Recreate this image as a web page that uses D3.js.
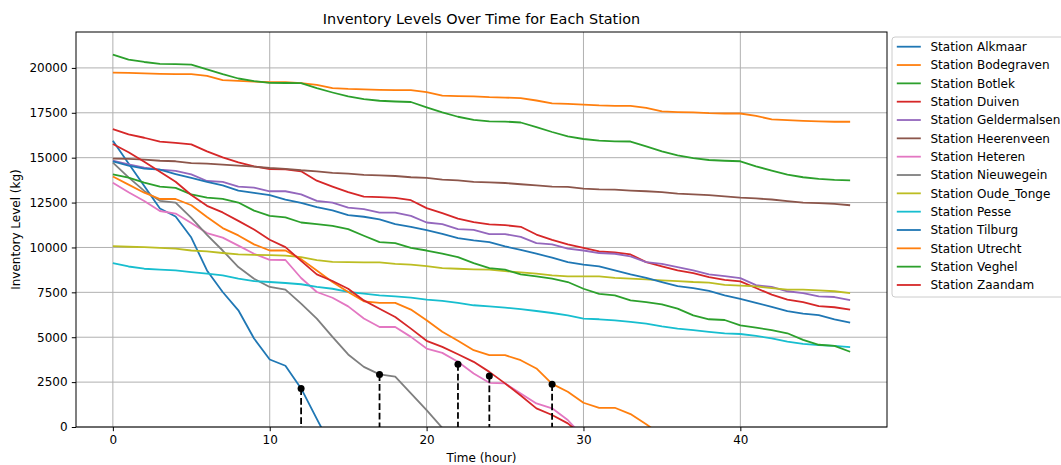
<!DOCTYPE html>
<html>
<head>
<meta charset="utf-8">
<script src="https://cdn.jsdelivr.net/npm/d3@7"></script>
<style>
  html, body { margin: 0; padding: 0; background: #fff; }
  svg { display: block; font-family: "DejaVu Sans", sans-serif; }
</style>
</head>
<body>
<svg id="chart" width="1061" height="465"></svg>
<script>
// ---------------- DATA ----------------
const stationNames = [
  "Station Alkmaar", "Station Bodegraven", "Station Botlek", "Station Duiven",
  "Station Geldermalsen", "Station Heerenveen", "Station Heteren", "Station Nieuwegein",
  "Station Oude_Tonge", "Station Pesse", "Station Tilburg", "Station Utrecht",
  "Station Veghel", "Station Zaandam"
];

const alkmaar = [15940, 14680, 13420, 12170, 11720, 10550, 8720, 7520, 6500, 4930, 3760, 3410, 2150, 450, -1200];
const bodegraven = [19740, 19720, 19700, 19670, 19650, 19650, 19560, 19320, 19280, 19240, 19200, 19200, 19150, 19060, 18870, 18830, 18810, 18780, 18760, 18760, 18650, 18460, 18430, 18410, 18370, 18350, 18315, 18185, 18020, 18000, 17960, 17910, 17890, 17890, 17780, 17575, 17540, 17520, 17480, 17460, 17460, 17330, 17130, 17090, 17050, 17020, 17000, 17000];
const botlek = [20740, 20460, 20330, 20220, 20210, 20180, 19920, 19650, 19410, 19260, 19170, 19160, 19150, 18870, 18630, 18410, 18260, 18170, 18130, 18100, 17800, 17520, 17280, 17110, 17020, 17010, 16960, 16700, 16430, 16185, 16040, 15945, 15910, 15900, 15630, 15350, 15130, 14980, 14870, 14830, 14800, 14520, 14280, 14060, 13910, 13820, 13760, 13740];
const duiven = [16590, 16300, 16110, 15890, 15830, 15740, 15350, 15020, 14740, 14520, 14370, 14350, 14240, 13720, 13390, 13080, 12830, 12800, 12760, 12630, 12190, 11910, 11610, 11410, 11280, 11240, 11150, 10720, 10425, 10170, 9980, 9780, 9720, 9610, 9185, 8945, 8720, 8570, 8350, 8200, 8110, 7740, 7370, 7100, 6950, 6730, 6670, 6540];
const geldermalsen = [14830, 14630, 14440, 14330, 14260, 14070, 13700, 13650, 13390, 13330, 13130, 13130, 12960, 12590, 12500, 12220, 12130, 11940, 11940, 11760, 11390, 11300, 11020, 10980, 10740, 10740, 10590, 10240, 10170, 9930, 9830, 9690, 9650, 9500, 9185, 9090, 8910, 8720, 8500, 8400, 8290, 7900, 7800, 7560, 7460, 7280, 7240, 7060];
const heerenveen = [14945, 14930, 14890, 14830, 14800, 14700, 14670, 14610, 14555, 14500, 14425, 14380, 14300, 14240, 14150, 14110, 14040, 14020, 13980, 13910, 13870, 13780, 13740, 13650, 13630, 13590, 13520, 13460, 13390, 13370, 13280, 13240, 13220, 13170, 13130, 13080, 13000, 12960, 12910, 12840, 12770, 12730, 12670, 12580, 12500, 12470, 12430, 12350];
const heteren = [13600, 13070, 12590, 12030, 11890, 11360, 10800, 10550, 10100, 9650, 9310, 9300, 8300, 7520, 7200, 6720, 6040, 5570, 5570, 5020, 4370, 4130, 3630, 2980, 2460, 2430, 1870, 1310, 1040, 390, -550];
const nieuwegein = [14720, 13900, 13150, 12600, 12500, 11650, 10700, 9830, 8910, 8260, 7800, 7650, 6870, 6040, 5020, 4040, 3350, 2930, 2800, 1870, 940, -50, -1000];
const oudeTonge = [10070, 10040, 10020, 9980, 9930, 9830, 9780, 9690, 9610, 9590, 9575, 9540, 9460, 9300, 9200, 9185, 9170, 9170, 9090, 9040, 8960, 8850, 8815, 8780, 8760, 8685, 8610, 8540, 8440, 8390, 8390, 8390, 8310, 8260, 8220, 8170, 8130, 8075, 8040, 7920, 7870, 7830, 7740, 7650, 7650, 7610, 7560, 7460];
const pesse = [9130, 8940, 8815, 8760, 8720, 8630, 8540, 8440, 8260, 8130, 8075, 8020, 7950, 7800, 7700, 7520, 7430, 7330, 7280, 7200, 7090, 7020, 6910, 6780, 6720, 6650, 6570, 6460, 6350, 6220, 6040, 6000, 5940, 5850, 5760, 5610, 5480, 5390, 5300, 5220, 5180, 5070, 4940, 4760, 4630, 4560, 4520, 4450];
const tilburg = [14800, 14560, 14390, 14330, 14090, 13870, 13650, 13460, 13170, 13040, 12920, 12670, 12480, 12240, 12060, 11800, 11710, 11560, 11300, 11150, 10960, 10760, 10520, 10390, 10300, 10060, 9860, 9650, 9430, 9185, 9040, 8945, 8720, 8500, 8310, 8075, 7850, 7740, 7580, 7330, 7130, 6910, 6690, 6450, 6320, 6230, 5990, 5810];
const utrecht = [13950, 13500, 13050, 12700, 12700, 12350, 11700, 11080, 10670, 10170, 9830, 9830, 9350, 8720, 8075, 7520, 7000, 6910, 6910, 6540, 5940, 5300, 4800, 4280, 4000, 4000, 3720, 3260, 2400, 1960, 1350, 1070, 1070, 720, 150, -450];
const veghel = [14070, 13890, 13610, 13390, 13320, 12960, 12780, 12700, 12500, 12050, 11760, 11670, 11390, 11300, 11200, 11020, 10650, 10300, 10240, 9980, 9830, 9650, 9460, 9130, 8850, 8760, 8500, 8390, 8260, 8075, 7700, 7420, 7330, 7050, 6960, 6830, 6590, 6220, 6000, 5960, 5660, 5530, 5400, 5220, 4850, 4580, 4520, 4190];
const zaandam = [15760, 15300, 14770, 14210, 13660, 12920, 12320, 11950, 11480, 11000, 10430, 10020, 9250, 8500, 8130, 7700, 7050, 6590, 6130, 5480, 4800, 4460, 4050, 3630, 3070, 2430, 1750, 1040, 670, 200, -500];

const seriesValues = [alkmaar, bodegraven, botlek, duiven, geldermalsen, heerenveen, heteren,
  nieuwegein, oudeTonge, pesse, tilburg, utrecht, veghel, zaandam];

// stock-out markers (hour, level)
const markerHours = [12, 17, 22, 24, 28];
const markerLevels = [2150, 2930, 3500, 2840, 2380];

const xTicks = [0, 10, 20, 30, 40];
const yTicks = [0, 2500, 5000, 7500, 10000, 12500, 15000, 17500, 20000];

const colors = ["#1f77b4", "#ff7f0e", "#2ca02c", "#d62728", "#9467bd", "#8c564b",
  "#e377c2", "#7f7f7f", "#bcbd22", "#17becf"];

// ---------------- LAYOUT ----------------
const svg = d3.select("#chart");
const L = 76, R = 887, T = 32, B = 427;

const x = d3.scaleLinear().domain([-2.35, 49.35]).range([L, R]);
const y = d3.scaleLinear().domain([0, 22000]).range([B, T]);

// clip
svg.append("defs").append("clipPath").attr("id", "plotclip")
  .append("rect").attr("x", L).attr("y", T).attr("width", R - L).attr("height", B - T);

// grid
const grid = svg.append("g");
grid.selectAll("line.vx").data(xTicks).enter().append("line")
  .attr("x1", d => x(d)).attr("x2", d => x(d)).attr("y1", T).attr("y2", B)
  .attr("stroke", "#b0b0b0").attr("stroke-width", 1);
grid.selectAll("line.hy").data(yTicks).enter().append("line")
  .attr("x1", L).attr("x2", R).attr("y1", d => y(d)).attr("y2", d => y(d))
  .attr("stroke", "#b0b0b0").attr("stroke-width", 1);

// lines
const line = d3.line().x((d, i) => x(i)).y(d => y(d));
const plot = svg.append("g").attr("clip-path", "url(#plotclip)");
seriesValues.forEach((vals, k) => {
  plot.append("path").datum(vals)
    .attr("d", line)
    .attr("fill", "none")
    .attr("stroke", colors[k % 10])
    .attr("stroke-width", 1.8)
    .attr("stroke-linejoin", "round")
    .attr("stroke-linecap", "butt");
});

// markers
const markers = svg.append("g").attr("clip-path", "url(#plotclip)");
markerHours.forEach((h, i) => {
  markers.append("line")
    .attr("x1", x(h)).attr("x2", x(h))
    .attr("y1", y(markerLevels[i])).attr("y2", y(0))
    .attr("stroke", "#000").attr("stroke-width", 1.8)
    .attr("stroke-dasharray", "6.7,2.9");
  markers.append("circle")
    .attr("cx", x(h)).attr("cy", y(markerLevels[i])).attr("r", 3.5)
    .attr("fill", "#000");
});

// axes
const xAxis = d3.axisBottom(x).tickValues(xTicks).tickSize(4.2).tickPadding(4.2).tickFormat(d3.format("d"));
const yAxis = d3.axisLeft(y).tickValues(yTicks).tickSize(4.2).tickPadding(4.2).tickFormat(d3.format("d"));

const gx = svg.append("g").attr("transform", `translate(0,${B})`).call(xAxis);
const gy = svg.append("g").attr("transform", `translate(${L},0)`).call(yAxis);
[gx, gy].forEach(g => {
  g.select(".domain").remove();
  g.selectAll(".tick line").attr("stroke", "#000").attr("stroke-width", 1);
  g.selectAll(".tick text").attr("fill", "#000")
    .style("font-family", "DejaVu Sans").style("font-size", "12px");
});

// spines
svg.append("rect").attr("x", L).attr("y", T).attr("width", R - L).attr("height", B - T)
  .attr("fill", "none").attr("stroke", "#000").attr("stroke-width", 1);

// title & labels
svg.append("text").attr("x", (L + R) / 2).attr("y", 24)
  .attr("text-anchor", "middle").style("font-size", "14.4px").attr("fill", "#000")
  .text("Inventory Levels Over Time for Each Station");
svg.append("text").attr("x", (L + R) / 2).attr("y", 462)
  .attr("text-anchor", "middle").style("font-size", "12px").attr("fill", "#000")
  .text("Time (hour)");
svg.append("text").attr("transform", `translate(20,${(T + B) / 2}) rotate(-90)`)
  .attr("text-anchor", "middle").style("font-size", "12px").attr("fill", "#000")
  .text("Inventory Level (kg)");

// legend
const lg = svg.append("g");
const lx = 892, ly = 37, rowH = 18.33;
lg.append("rect").attr("x", lx).attr("y", ly).attr("width", 190)
  .attr("height", 260).attr("rx", 3).attr("ry", 3)
  .attr("fill", "#fff").attr("fill-opacity", 0.8)
  .attr("stroke", "#cccccc").attr("stroke-width", 1);
stationNames.forEach((name, i) => {
  const cy = ly + 9.7 + i * rowH;
  lg.append("line").attr("x1", lx + 4.8).attr("x2", lx + 28.8)
    .attr("y1", cy).attr("y2", cy)
    .attr("stroke", colors[i % 10]).attr("stroke-width", 1.8);
  lg.append("text").attr("x", lx + 38.5).attr("y", cy + 4.2)
    .style("font-size", "12px").attr("fill", "#000").text(name);
});
</script>
</body>
</html>
